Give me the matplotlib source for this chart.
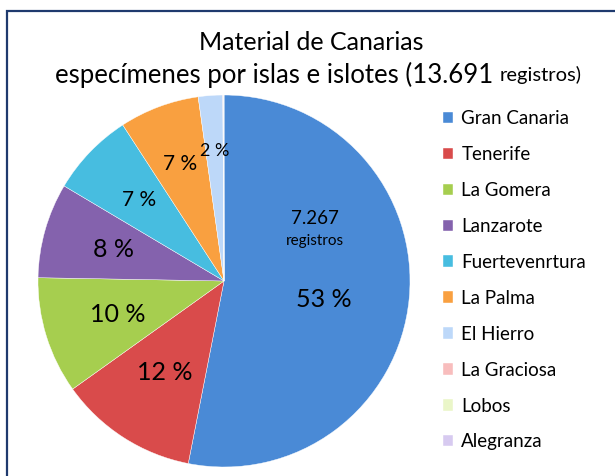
import numpy as np
import matplotlib
matplotlib.use('Agg')
import matplotlib.pyplot as plt
from matplotlib.patches import Rectangle

plt.rcParams['font.family'] = ['Lato', 'DejaVu Sans']

# ── Data ──────────────────────────────────────────────────────────────────────
islas = ['Gran Canaria', 'Tenerife', 'La Gomera', 'Lanzarote', 'Fuertevenrtura',
         'La Palma', 'El Hierro', 'La Graciosa', 'Lobos', 'Alegranza']
registros = [7267, 1650, 1390, 1130, 1000, 950, 290, 10, 3, 1]
colores = ['#4a8ad6', '#d94b4b', '#a6ce4f', '#8462ad', '#47bde0',
           '#f9a040', '#bdd8f9', '#f8bdbd', '#eaf6c8', '#d7caf0']
total = sum(registros)

# label placement: radial distance and font size per wedge (first 7 shown)
label_r = [0.54, 0.585, 0.60, 0.62, 0.63, 0.67, 0.70]
label_fs = [18, 18, 18, 18, 15, 15, 13]

# ── Plot ──────────────────────────────────────────────────────────────────────
fig = plt.figure(figsize=(6.15, 4.76), dpi=100)
ax = fig.add_axes([38/615, 1 - 467/476, 372/615, 372/476])

wedges, _ = ax.pie(registros, colors=colores, startangle=90, counterclock=False,
                   wedgeprops=dict(edgecolor='white', linewidth=0.3))
ax.set_xlim(-1, 1); ax.set_ylim(-1, 1)
ax.set_aspect('equal')
for w in wedges:
    w.set_clip_on(False)

for i, w in enumerate(wedges[:7]):
    ang = np.deg2rad((w.theta1 + w.theta2) / 2)
    x, y = label_r[i] * np.cos(ang), label_r[i] * np.sin(ang)
    pct = f'{round(registros[i] / total * 100)} %'
    if i == 0:
        ax.text(x, y - 0.05, pct, ha='center', va='center', fontsize=label_fs[i])
        ax.text(x - 0.05, y + 0.39, f'{registros[0]:,}'.replace(',', '.'),
                ha='center', va='center', fontsize=13.5)
        ax.text(x - 0.05, y + 0.265, 'registros', ha='center', va='center', fontsize=11)
    else:
        ax.text(x, y, pct, ha='center', va='center', fontsize=label_fs[i])

# title
fig.text(311/615, 1 - 42/476, 'Material de Canarias', ha='center', va='center', fontsize=18)
t1 = fig.text(0.5, 1 - 75/476, 'especímenes por islas e islotes (13.691 ', ha='right',
              va='center', fontsize=18.5)
t2 = fig.text(0.5, 1 - 75/476, 'registros)', ha='left', va='center', fontsize=14.5)
# centre the two-part second line
fig.canvas.draw()
r = fig.canvas.get_renderer()
w1 = t1.get_window_extent(r).width
w2 = t2.get_window_extent(r).width
cx = 318
start = cx - (w1 + w2) / 2
t1.set_position(((start + w1) / 615, 1 - 75/476))
t2.set_position(((start + w1) / 615, 1 - 75/476))

leg = fig.legend(wedges, islas, loc='upper left', bbox_to_anchor=(443/615, 1 - 110/476),
                 frameon=False, fontsize=13.5, handlelength=0.55, handleheight=0.55,
                 handletextpad=0.43, labelspacing=1.01, borderpad=0, borderaxespad=0)

# outer frame (only top and left edges fall inside the image)
fig.add_artist(Rectangle((7/615, -0.1), 1.2, 1 - 11/476 + 0.1, transform=fig.transFigure,
                         fill=False, edgecolor='#1f3a6e', linewidth=1.6))

fig.savefig('out.png', dpi=100)
